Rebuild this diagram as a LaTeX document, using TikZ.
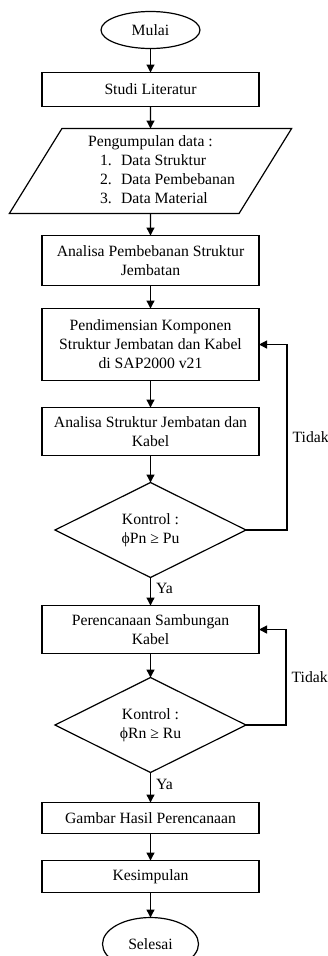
\documentclass[tikz,border=0pt]{standalone}
\usepackage{fontspec}
\setmainfont{Liberation Serif}
\usepackage{tikz}
\usetikzlibrary{positioning, arrows.meta, shapes.geometric}

\begin{document}
\begin{tikzpicture}[
    x=1pt, y=1pt,
    every node/.style={font=\fontsize{15.7}{19}\selectfont, align=center},
    box/.style={draw, line width=1.2pt, minimum width=217pt, inner sep=0pt, outer sep=0pt},
    term/.style={draw, ellipse, line width=1.2pt, inner sep=0pt, outer sep=0pt},
    io/.style={draw, trapezium, trapezium left angle=56.6, trapezium right angle=123.4,
        trapezium stretches=true, line width=1.2pt, minimum width=283pt, minimum height=85pt,
        inner sep=0pt, outer sep=0pt},
    cek/.style={draw, diamond, aspect=2, line width=1.2pt, minimum width=191pt, minimum height=95pt,
        inner sep=0pt, outer sep=0pt},
    line/.style={draw, line width=1.2pt, -{Triangle[length=8pt, width=8pt]}},
    lbl/.style={anchor=west, inner sep=5pt}
]
\useasboundingbox (0,0) rectangle (328,-956);
\node[term, minimum width=99pt, minimum height=37pt] (mulai) at (150.5,-30) {Mulai};
\node[box, minimum height=34pt, below=24pt of mulai] (studi) {Studi Literatur};
\node[io, below=22pt of studi] (data) {\begin{tabular}{@{\hspace{22pt}}l@{}}
    Pengumpulan data :\\
    \hspace{12pt}\makebox[21pt][l]{1.}Data Struktur\\
    \hspace{12pt}\makebox[21pt][l]{2.}Data Pembebanan\\
    \hspace{12pt}\makebox[21pt][l]{3.}Data Material
    \end{tabular}};
\node[box, minimum height=50pt, below=22pt of data] (bebani) {Analisa Pembebanan Struktur\\Jembatan};
\node[box, minimum height=72pt, below=23pt of bebani] (dimensi) {Pendimensian Komponen\\Struktur Jembatan dan Kabel\\di SAP2000 v21};
\node[box, minimum height=48pt, below=27pt of dimensi] (analisa) {Analisa Struktur Jembatan dan\\Kabel};
\node[cek, below=27pt of analisa] (kontrol1) {Kontrol :\\ϕPn ≥ Pu};
\node[box, minimum height=48pt, below=28pt of kontrol1] (sambung) {Perencanaan Sambungan\\Kabel};
\node[cek, below=24pt of sambung] (kontrol2) {Kontrol :\\ϕRn ≥ Ru};
\node[box, minimum height=31pt, below=30pt of kontrol2] (gambar) {Gambar Hasil Perencanaan};
\node[box, minimum height=32pt, below=27pt of gambar] (simpul) {Kesimpulan};
\node[term, minimum width=96pt, minimum height=53pt, below=25pt of simpul] (selesai) {Selesai};

\draw[line] (mulai) -- (studi);
\draw[line] (studi) -- (data);
\draw[line] (data) -- (bebani);
\draw[line] (bebani) -- (dimensi);
\draw[line] (dimensi) -- (analisa);
\draw[line] (analisa) -- (kontrol1);
\draw[line] (kontrol1) -- node[lbl, pos=0.4] {Ya} (sambung);
\draw[line] (kontrol1.east) -- ++(41,0) |- node[lbl, pos=0.25] {Tidak} (dimensi.east);
\draw[line] (sambung) -- (kontrol2);
\draw[line] (kontrol2) -- node[lbl, pos=0.4] {Ya} (gambar);
\draw[line] (kontrol2.east) -- ++(40,0) |- node[lbl, pos=0.25] {Tidak} (sambung.east);
\draw[line] (gambar) -- (simpul);
\draw[line] (simpul) -- (selesai);
\end{tikzpicture}
\end{document}
